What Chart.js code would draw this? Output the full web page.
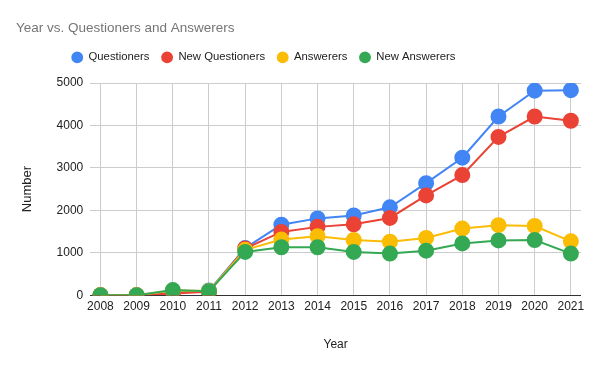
<!DOCTYPE html>
<html><head><meta charset="utf-8">
<script src="https://cdn.jsdelivr.net/npm/chart.js"></script>
<style>html,body{margin:0;padding:0;background:#fff}#w{width:600px;height:371px}</style>
</head><body><div id="w"><canvas id="c"></canvas></div>
<script>
const years = [2008,2009,2010,2011,2012,2013,2014,2015,2016,2017,2018,2019,2020,2021];
const questioners = [0,0,60,110,1110,1660,1810,1880,2070,2640,3240,4210,4820,4830];
const newQuestioners = [0,0,40,80,1100,1490,1610,1670,1820,2350,2830,3730,4210,4110];
const answerers = [0,0,110,100,1070,1310,1390,1300,1260,1350,1570,1650,1630,1270];
const newAnswerers = [0,0,120,95,1020,1130,1130,1020,980,1050,1220,1290,1300,980];
const yTicks = [0,1000,2000,3000,4000,5000];

const F = "'Liberation Sans', Arial, sans-serif";
function ds(label, vals, color, order){
  return {label, data: vals.map((v,i)=>({x:years[i], y:v})), borderColor: color, backgroundColor: color,
    pointBackgroundColor: color, pointBorderColor: color, borderWidth: 2, pointRadius: 7, pointHoverRadius: 7, order, tension: 0};
}
const legendTweak = { id: 'legendTweak',
  beforeInit(chart){
    const fit = chart.legend.fit;
    chart.legend.fit = function(){ fit.bind(chart.legend)(); this.height += 10; };
  },
  afterLayout(chart){
    const lg = chart.legend; lg.right -= 70; lg.width -= 70;
  }
};
new Chart(document.getElementById('c'), {
  type: 'line',
  plugins: [legendTweak],
  data: { datasets: [
    ds('Questioners', questioners, '#4285F4', 4),
    ds('New Questioners', newQuestioners, '#EA4335', 3),
    ds('Answerers', answerers, '#FBBC04', 2),
    ds('New Answerers', newAnswerers, '#34A853', 1)
  ]},
  options: {
    responsive: true, maintainAspectRatio: false, animation: false,
    layout: { padding: { left: 16, right: 19, top: 20, bottom: 19 } },
    plugins: {
      title: { display: true, text: 'Year vs. Questioners and Answerers', align: 'start', color: '#757575',
        font: { family: F, size: 13.5, weight: 'normal' }, padding: { top: 0, bottom: 3.5 } },
      legend: { display: true, position: 'top', labels: { usePointStyle: true, pointStyle: 'circle', boxWidth: 14, boxHeight: 7,
        padding: 12, color: '#222', font: { family: F, size: 11.3 }, sort: (a,b)=>a.datasetIndex-b.datasetIndex } },
      tooltip: { enabled: false }
    },
    scales: {
      x: { type: 'linear', min: 2007.72, max: 2021.28,
        afterBuildTicks: (s)=>{ s.ticks = years.map(v=>({value:v})); },
        ticks: { color: '#222', font: { family: F, size: 12 }, padding: 4, maxRotation: 0, autoSkip: false, callback: v=>String(v) },
        grid: { color: '#cccccc', drawTicks: false }, border: { display: false },
        title: { display: true, text: 'Year', color: '#222', font: { family: F, size: 12 }, padding: { top: 20, bottom: 0 } } },
      y: { min: 0, max: 5000,
        afterBuildTicks: (s)=>{ s.ticks = yTicks.map(v=>({value:v})); },
        ticks: { color: '#222', font: { family: F, size: 12 }, padding: 7, callback: v=>String(v) },
        grid: { color: (c)=> c.tick && c.tick.value===0 ? '#333333' : '#cccccc', drawTicks: false }, border: { display: false },
        title: { display: true, text: 'Number', color: '#222', font: { family: F, size: 13 }, padding: { top: 4, bottom: 14 } } }
    }
  }
});
</script></body></html>
